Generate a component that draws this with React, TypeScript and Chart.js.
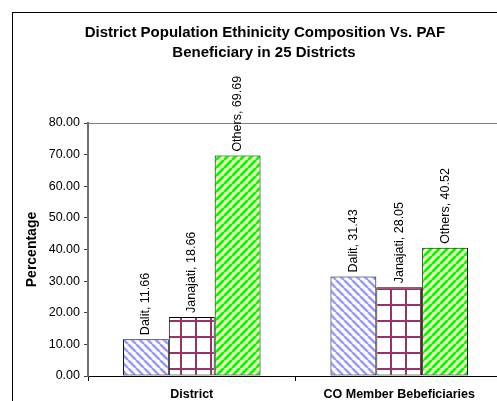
import React, { useEffect, useRef } from 'react';
import { Chart, registerables } from 'chart.js';

Chart.register(...registerables);

const categories = ['District', 'CO Member Bebeficiaries'];
const seriesNames = ['Dalit', 'Janajati', 'Others'];
const dalitValues = [11.66, 31.43];
const janajatiValues = [18.66, 28.05];
const othersValues = [69.69, 40.52];
const titleLines = ['District Population Ethinicity Composition Vs. PAF', 'Beneficiary in 25 Districts'];
const yAxisTitle = 'Percentage';
const yMin = 0;
const yMax = 80;
const yStep = 10;

const FONT = '"Liberation Sans", Arial, sans-serif';

function makePattern(kind: string): CanvasPattern | string {
  const c = document.createElement('canvas');
  let g: CanvasRenderingContext2D | null;
  if (kind === 'dalit') {
    c.width = 8; c.height = 8;
    g = c.getContext('2d')!;
    g.fillStyle = '#ffffff'; g.fillRect(0, 0, 8, 8);
    g.strokeStyle = '#9999ff'; g.lineWidth = 2.6;
    for (const o of [-8, 0, 8]) { g.beginPath(); g.moveTo(o, 0); g.lineTo(o + 8, 8); g.stroke(); }
  } else if (kind === 'others') {
    c.width = 8; c.height = 8;
    g = c.getContext('2d')!;
    g.fillStyle = '#ffffcc'; g.fillRect(0, 0, 8, 8);
    g.strokeStyle = '#00ff00'; g.lineWidth = 3;
    for (const o of [-8, 0, 8]) { g.beginPath(); g.moveTo(o, 8); g.lineTo(o + 8, 0); g.stroke(); }
  } else {
    c.width = 15; c.height = 16;
    g = c.getContext('2d')!;
    g.fillStyle = '#ffffff'; g.fillRect(0, 0, 15, 16);
    g.fillStyle = '#993366';
    g.fillRect(0, 0, 2, 16);
    g.fillRect(0, 0, 15, 2);
  }
  const p = g.createPattern(c, 'repeat');
  return p || '#ffffff';
}

export default function App() {
  const ref = useRef<HTMLCanvasElement | null>(null);

  useEffect(() => {
    if (!ref.current) return;

    const framePlugin = {
      id: 'frame',
      beforeDraw(chart: any) {
        const ctx = chart.ctx;
        ctx.save();
        ctx.fillStyle = '#ffffff';
        ctx.fillRect(0, 0, chart.width, chart.height);
        ctx.strokeStyle = '#000000';
        ctx.lineWidth = 1;
        ctx.strokeRect(12.5, 12.5, 700, 700);
        ctx.fillStyle = '#000000';
        ctx.font = `bold 15px ${FONT}`;
        ctx.textAlign = 'center';
        ctx.textBaseline = 'middle';
        ctx.fillText(titleLines[0], 265, 33);
        ctx.fillText(titleLines[1], 264, 53);
        ctx.restore();
      },
    };

    const labelPlugin = {
      id: 'barLabels',
      afterDatasetsDraw(chart: any) {
        const ctx = chart.ctx;
        ctx.save();
        ctx.fillStyle = '#000000';
        ctx.font = `12.5px ${FONT}`;
        ctx.textAlign = 'left';
        ctx.textBaseline = 'middle';
        chart.data.datasets.forEach((ds: any, di: number) => {
          const meta = chart.getDatasetMeta(di);
          meta.data.forEach((el: any, i: number) => {
            const v = ds.data[i] as number;
            ctx.save();
            ctx.translate(el.x, el.y - 4);
            ctx.rotate(-Math.PI / 2);
            ctx.fillText(`${ds.label}, ${v.toFixed(2)}`, 0, 0);
            ctx.restore();
          });
        });
        ctx.restore();
      },
    };

    const values = [dalitValues, janajatiValues, othersValues];
    const patterns = [makePattern('dalit'), makePattern('janajati'), makePattern('others')];

    const chart = new Chart(ref.current, {
      type: 'bar',
      data: {
        labels: categories,
        datasets: seriesNames.map((name, i) => ({
          label: name,
          data: values[i],
          backgroundColor: patterns[i] as any,
          borderColor: '#000000',
          borderWidth: 1,
          borderSkipped: false,
          categoryPercentage: 0.663,
          barPercentage: 1,
        })),
      },
      options: {
        responsive: false,
        animation: false,
        layout: { padding: { top: 123, right: 17, left: 0, bottom: 0 } },
        plugins: {
          legend: { display: false },
          title: { display: false },
          tooltip: { enabled: false },
        },
        scales: {
          x: {
            grid: {
              display: true,
              color: 'rgba(0,0,0,0)',
              drawOnChartArea: false,
              tickColor: '#000000',
              tickLength: 5,
              offset: true,
            },
            border: { color: '#000000', width: 1 },
            ticks: {
              color: '#000000',
              font: { family: FONT, size: 12.5, weight: 'bold' },
              padding: 6,
              maxRotation: 0,
            },
            afterFit: (s: any) => { s.height = 25; },
          },
          y: {
            min: yMin,
            max: yMax,
            ticks: {
              stepSize: yStep,
              callback: (v: any) => Number(v).toFixed(2),
              color: '#000000',
              font: { family: FONT, size: 12.5 },
              padding: 4,
            },
            grid: {
              color: (c: any) => (c.tick && c.tick.value === yMax ? '#808080' : 'rgba(0,0,0,0)'),
              tickColor: '#404040',
              tickLength: 4,
            },
            border: { color: '#707070', width: 2 },
            title: {
              display: true,
              text: yAxisTitle,
              color: '#000000',
              font: { family: FONT, size: 14, weight: 'bold' },
              padding: { top: 24, bottom: 0 },
            },
            afterFit: (s: any) => { s.width = 88; },
          },
        },
      },
      plugins: [framePlugin, labelPlugin],
    } as any);

    return () => chart.destroy();
  }, []);

  return (
    <div style={{ position: 'absolute', left: 0, top: 0, width: 497, height: 401, overflow: 'hidden', background: '#ffffff' }}>
      <canvas ref={ref} width={520} height={401} style={{ display: 'block', width: 520, height: 401 }} />
    </div>
  );
}
